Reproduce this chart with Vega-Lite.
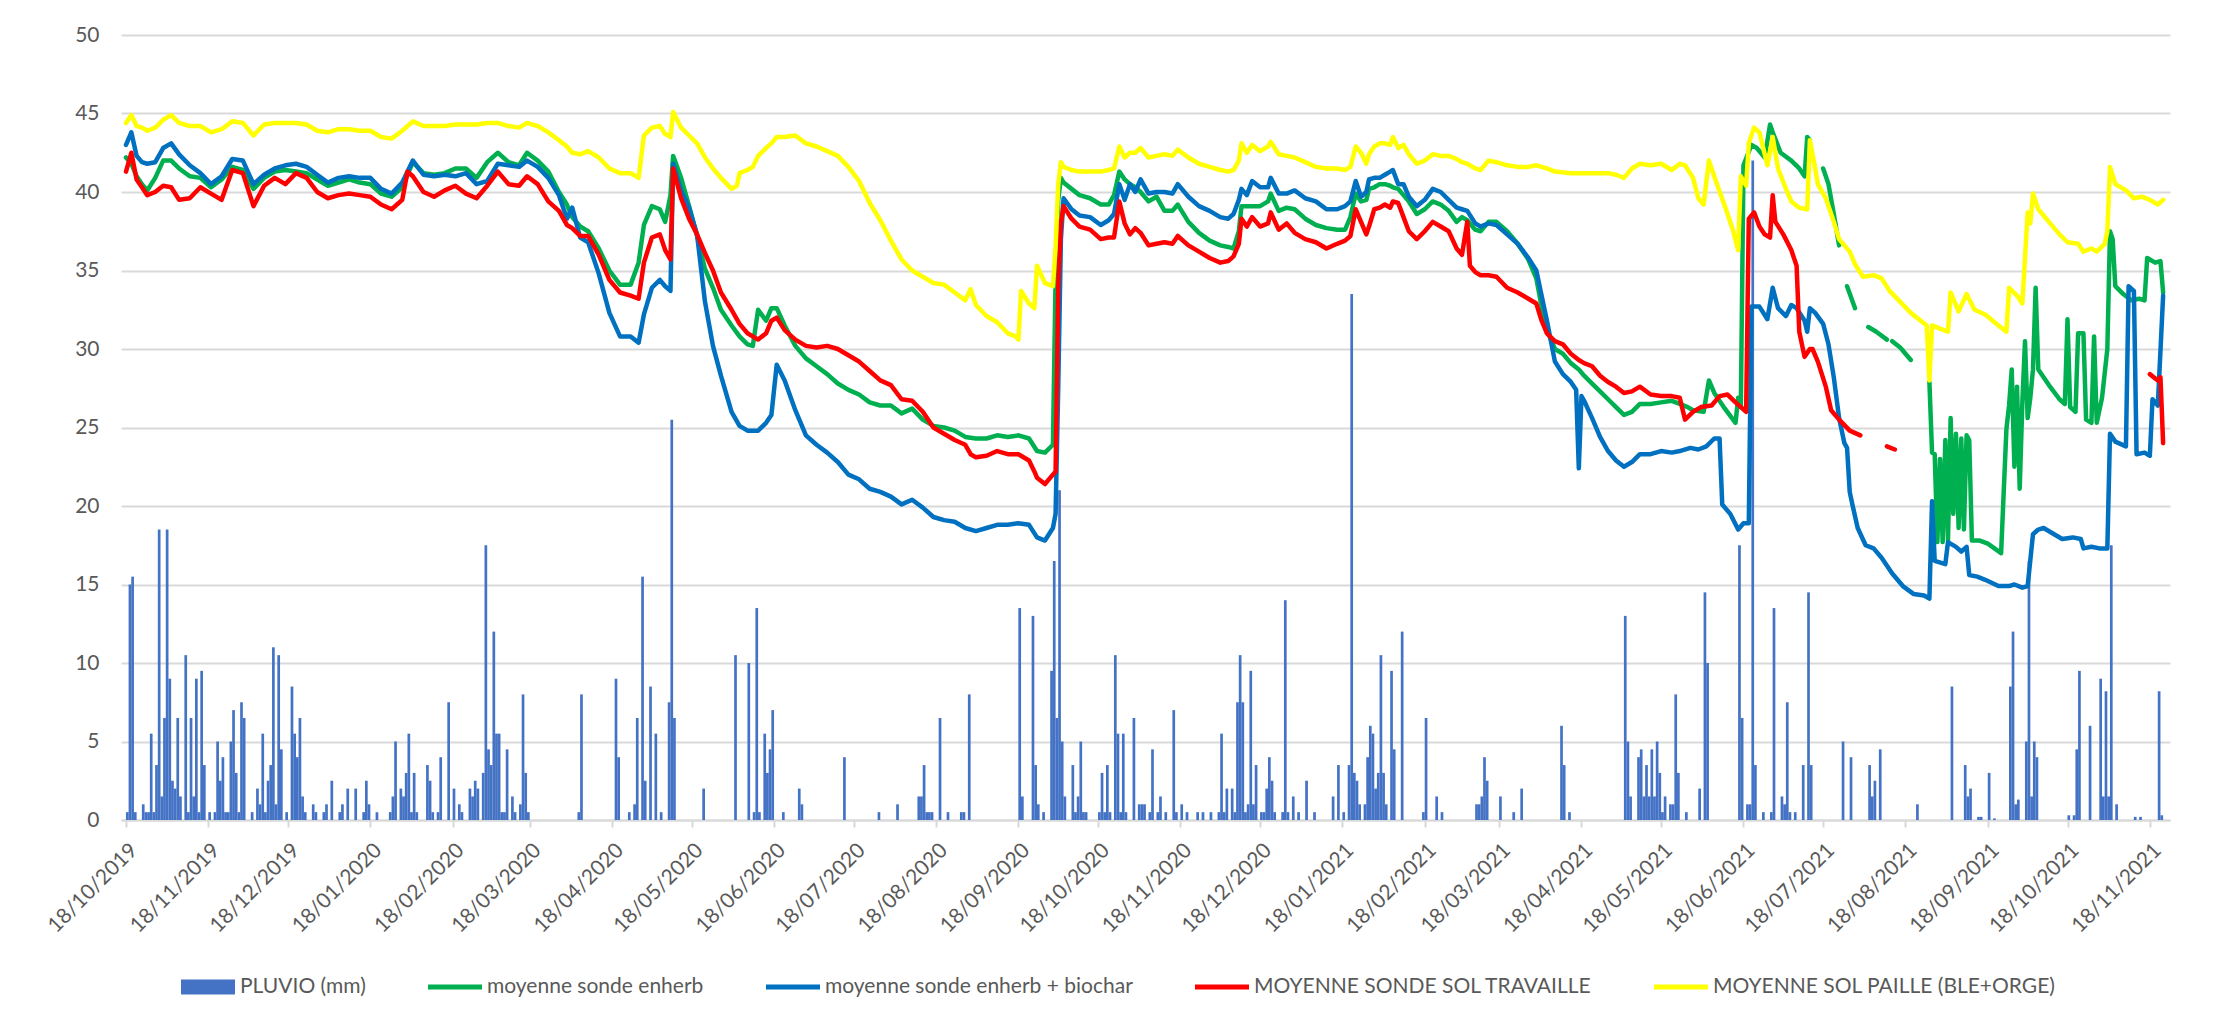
{
"$schema":"https://vega.github.io/schema/vega-lite/v6.json",
"width":2049,"height":785,
"autosize":{"type":"none"},
"padding":{"left":121,"top":35,"right":61,"bottom":192},
"background":"#ffffff",
"config":{"view":{"stroke":null},"font":"Lato","axis":{"labelFont":"Lato","labelColor":"#595959","title":null}},
"datasets":{
"rain":[
{"d":"2019-10-18","v":0.5},{"d":"2019-10-19","v":15.0},{"d":"2019-10-20","v":15.5},{"d":"2019-10-21","v":0.5},{"d":"2019-10-24","v":1.0},{"d":"2019-10-25","v":0.5},{"d":"2019-10-26","v":0.5},{"d":"2019-10-27","v":5.5},{"d":"2019-10-28","v":0.5},{"d":"2019-10-29","v":3.5},{"d":"2019-10-30","v":18.5},{"d":"2019-10-31","v":1.5},
{"d":"2019-11-01","v":6.5},{"d":"2019-11-02","v":18.5},{"d":"2019-11-03","v":9.0},{"d":"2019-11-04","v":2.5},{"d":"2019-11-05","v":2.0},{"d":"2019-11-06","v":6.5},{"d":"2019-11-07","v":1.5},{"d":"2019-11-09","v":10.5},{"d":"2019-11-10","v":0.5},{"d":"2019-11-11","v":6.5},{"d":"2019-11-12","v":1.5},{"d":"2019-11-13","v":9.0},{"d":"2019-11-14","v":0.5},{"d":"2019-11-15","v":9.5},{"d":"2019-11-16","v":3.5},{"d":"2019-11-18","v":0.5},{"d":"2019-11-20","v":0.5},{"d":"2019-11-21","v":5.0},{"d":"2019-11-22","v":2.5},{"d":"2019-11-23","v":4.0},{"d":"2019-11-24","v":0.5},{"d":"2019-11-25","v":0.5},{"d":"2019-11-26","v":5.0},{"d":"2019-11-27","v":7.0},{"d":"2019-11-28","v":3.0},{"d":"2019-11-29","v":0.5},{"d":"2019-11-30","v":7.5},
{"d":"2019-12-01","v":6.5},{"d":"2019-12-04","v":0.5},{"d":"2019-12-06","v":2.0},{"d":"2019-12-07","v":1.0},{"d":"2019-12-08","v":5.5},{"d":"2019-12-09","v":0.5},{"d":"2019-12-10","v":2.5},{"d":"2019-12-11","v":3.5},{"d":"2019-12-12","v":11.0},{"d":"2019-12-13","v":1.0},{"d":"2019-12-14","v":10.5},{"d":"2019-12-15","v":4.5},{"d":"2019-12-17","v":0.5},{"d":"2019-12-19","v":8.5},{"d":"2019-12-20","v":5.5},{"d":"2019-12-21","v":4.0},{"d":"2019-12-22","v":6.5},{"d":"2019-12-23","v":1.5},{"d":"2019-12-24","v":0.5},{"d":"2019-12-27","v":1.0},{"d":"2019-12-28","v":0.5},{"d":"2019-12-31","v":0.5},
{"d":"2020-01-01","v":1.0},{"d":"2020-01-03","v":2.5},{"d":"2020-01-06","v":0.5},{"d":"2020-01-07","v":1.0},{"d":"2020-01-09","v":2.0},{"d":"2020-01-12","v":2.0},{"d":"2020-01-15","v":0.5},{"d":"2020-01-16","v":2.5},{"d":"2020-01-17","v":1.0},{"d":"2020-01-20","v":0.5},{"d":"2020-01-25","v":0.5},{"d":"2020-01-26","v":1.5},{"d":"2020-01-27","v":5.0},{"d":"2020-01-29","v":2.0},{"d":"2020-01-30","v":1.5},{"d":"2020-01-31","v":3.0},
{"d":"2020-02-01","v":5.5},{"d":"2020-02-02","v":0.5},{"d":"2020-02-03","v":3.0},{"d":"2020-02-04","v":0.5},{"d":"2020-02-08","v":3.5},{"d":"2020-02-09","v":2.5},{"d":"2020-02-10","v":0.5},{"d":"2020-02-12","v":0.5},{"d":"2020-02-13","v":4.0},{"d":"2020-02-16","v":7.5},{"d":"2020-02-18","v":2.0},{"d":"2020-02-20","v":1.0},{"d":"2020-02-21","v":0.5},{"d":"2020-02-24","v":2.0},{"d":"2020-02-25","v":1.5},{"d":"2020-02-26","v":2.5},{"d":"2020-02-27","v":2.0},{"d":"2020-02-29","v":3.0},
{"d":"2020-03-01","v":17.5},{"d":"2020-03-02","v":4.5},{"d":"2020-03-03","v":3.5},{"d":"2020-03-04","v":12.0},{"d":"2020-03-05","v":5.5},{"d":"2020-03-06","v":5.5},{"d":"2020-03-07","v":0.5},{"d":"2020-03-08","v":0.5},{"d":"2020-03-09","v":4.5},{"d":"2020-03-11","v":1.5},{"d":"2020-03-12","v":0.5},{"d":"2020-03-14","v":1.0},{"d":"2020-03-15","v":8.0},{"d":"2020-03-16","v":3.0},{"d":"2020-03-17","v":0.5},
{"d":"2020-04-05","v":0.5},{"d":"2020-04-06","v":8.0},{"d":"2020-04-19","v":9.0},{"d":"2020-04-20","v":4.0},{"d":"2020-04-24","v":0.5},{"d":"2020-04-26","v":1.0},{"d":"2020-04-27","v":6.5},{"d":"2020-04-29","v":15.5},{"d":"2020-04-30","v":2.5},
{"d":"2020-05-02","v":8.5},{"d":"2020-05-04","v":5.5},{"d":"2020-05-06","v":0.5},{"d":"2020-05-09","v":7.5},{"d":"2020-05-10","v":25.5},{"d":"2020-05-11","v":6.5},{"d":"2020-05-22","v":2.0},
{"d":"2020-06-03","v":10.5},{"d":"2020-06-08","v":10.0},{"d":"2020-06-10","v":0.5},{"d":"2020-06-11","v":13.5},{"d":"2020-06-12","v":0.5},{"d":"2020-06-14","v":5.5},{"d":"2020-06-15","v":3.0},{"d":"2020-06-16","v":4.5},{"d":"2020-06-17","v":7.0},{"d":"2020-06-21","v":0.5},{"d":"2020-06-27","v":2.0},{"d":"2020-06-28","v":1.0},
{"d":"2020-07-14","v":4.0},{"d":"2020-07-27","v":0.5},{"d":"2020-08-03","v":1.0},{"d":"2020-08-11","v":1.5},{"d":"2020-08-12","v":1.5},{"d":"2020-08-13","v":3.5},{"d":"2020-08-14","v":0.5},{"d":"2020-08-15","v":0.5},{"d":"2020-08-16","v":0.5},{"d":"2020-08-19","v":6.5},{"d":"2020-08-22","v":0.5},{"d":"2020-08-27","v":0.5},{"d":"2020-08-28","v":0.5},{"d":"2020-08-30","v":8.0},
{"d":"2020-09-18","v":13.5},{"d":"2020-09-19","v":1.5},{"d":"2020-09-23","v":13.0},{"d":"2020-09-24","v":3.5},{"d":"2020-09-25","v":1.0},{"d":"2020-09-27","v":0.5},{"d":"2020-09-30","v":9.5},
{"d":"2020-10-01","v":16.5},{"d":"2020-10-02","v":6.5},{"d":"2020-10-03","v":21.0},{"d":"2020-10-04","v":5.0},{"d":"2020-10-05","v":1.5},{"d":"2020-10-08","v":3.5},{"d":"2020-10-09","v":0.5},{"d":"2020-10-10","v":1.5},{"d":"2020-10-11","v":5.0},{"d":"2020-10-12","v":0.5},{"d":"2020-10-13","v":0.5},{"d":"2020-10-18","v":0.5},{"d":"2020-10-19","v":3.0},{"d":"2020-10-20","v":0.5},{"d":"2020-10-21","v":3.5},{"d":"2020-10-22","v":0.5},{"d":"2020-10-24","v":10.5},{"d":"2020-10-25","v":5.5},{"d":"2020-10-26","v":0.5},{"d":"2020-10-27","v":5.5},{"d":"2020-10-28","v":0.5},{"d":"2020-10-31","v":6.5},
{"d":"2020-11-02","v":1.0},{"d":"2020-11-03","v":1.0},{"d":"2020-11-04","v":1.0},{"d":"2020-11-06","v":0.5},{"d":"2020-11-07","v":4.5},{"d":"2020-11-09","v":0.5},{"d":"2020-11-10","v":1.5},{"d":"2020-11-12","v":0.5},{"d":"2020-11-15","v":7.0},{"d":"2020-11-16","v":0.5},{"d":"2020-11-18","v":1.0},{"d":"2020-11-20","v":0.5},{"d":"2020-11-24","v":0.5},{"d":"2020-11-26","v":0.5},{"d":"2020-11-29","v":0.5},
{"d":"2020-12-02","v":0.5},{"d":"2020-12-03","v":5.5},{"d":"2020-12-04","v":0.5},{"d":"2020-12-05","v":2.0},{"d":"2020-12-07","v":2.0},{"d":"2020-12-08","v":0.5},{"d":"2020-12-09","v":7.5},{"d":"2020-12-10","v":10.5},{"d":"2020-12-11","v":7.5},{"d":"2020-12-12","v":0.5},{"d":"2020-12-13","v":1.0},{"d":"2020-12-14","v":9.5},{"d":"2020-12-15","v":1.0},{"d":"2020-12-16","v":3.5},{"d":"2020-12-18","v":0.5},{"d":"2020-12-19","v":0.5},{"d":"2020-12-20","v":2.0},{"d":"2020-12-21","v":4.0},{"d":"2020-12-22","v":2.5},{"d":"2020-12-23","v":0.5},{"d":"2020-12-26","v":0.5},{"d":"2020-12-27","v":14.0},{"d":"2020-12-28","v":0.5},{"d":"2020-12-30","v":1.5},
{"d":"2021-01-01","v":0.5},{"d":"2021-01-04","v":2.5},{"d":"2021-01-07","v":0.5},{"d":"2021-01-14","v":1.5},{"d":"2021-01-16","v":3.5},{"d":"2021-01-18","v":0.5},{"d":"2021-01-20","v":3.5},{"d":"2021-01-21","v":33.5},{"d":"2021-01-22","v":3.0},{"d":"2021-01-23","v":2.5},{"d":"2021-01-24","v":1.0},{"d":"2021-01-26","v":1.0},{"d":"2021-01-27","v":4.0},{"d":"2021-01-28","v":6.0},{"d":"2021-01-29","v":5.5},{"d":"2021-01-30","v":2.0},{"d":"2021-01-31","v":3.0},
{"d":"2021-02-01","v":10.5},{"d":"2021-02-02","v":3.0},{"d":"2021-02-03","v":1.0},{"d":"2021-02-05","v":9.5},{"d":"2021-02-06","v":4.5},{"d":"2021-02-09","v":12.0},{"d":"2021-02-17","v":0.5},{"d":"2021-02-18","v":6.5},{"d":"2021-02-22","v":1.5},{"d":"2021-02-24","v":0.5},
{"d":"2021-03-09","v":1.0},{"d":"2021-03-10","v":1.0},{"d":"2021-03-11","v":1.5},{"d":"2021-03-12","v":4.0},{"d":"2021-03-13","v":2.5},{"d":"2021-03-18","v":1.5},{"d":"2021-03-23","v":0.5},{"d":"2021-03-26","v":2.0},
{"d":"2021-04-10","v":6.0},{"d":"2021-04-11","v":3.5},{"d":"2021-04-13","v":0.5},
{"d":"2021-05-04","v":13.0},{"d":"2021-05-05","v":5.0},{"d":"2021-05-06","v":1.5},{"d":"2021-05-09","v":4.0},{"d":"2021-05-10","v":4.5},{"d":"2021-05-11","v":1.5},{"d":"2021-05-12","v":3.5},{"d":"2021-05-13","v":1.5},{"d":"2021-05-14","v":4.5},{"d":"2021-05-15","v":1.5},{"d":"2021-05-16","v":5.0},{"d":"2021-05-17","v":3.0},{"d":"2021-05-18","v":0.5},{"d":"2021-05-19","v":1.5},{"d":"2021-05-21","v":1.0},{"d":"2021-05-22","v":1.0},{"d":"2021-05-23","v":8.0},{"d":"2021-05-24","v":3.0},{"d":"2021-05-27","v":0.5},
{"d":"2021-06-01","v":2.0},{"d":"2021-06-03","v":14.5},{"d":"2021-06-04","v":10.0},{"d":"2021-06-16","v":17.5},{"d":"2021-06-17","v":6.5},{"d":"2021-06-19","v":1.0},{"d":"2021-06-20","v":1.0},{"d":"2021-06-21","v":42.0},{"d":"2021-06-22","v":3.5},{"d":"2021-06-25","v":0.5},{"d":"2021-06-28","v":0.5},{"d":"2021-06-29","v":13.5},
{"d":"2021-07-02","v":1.5},{"d":"2021-07-03","v":1.0},{"d":"2021-07-04","v":7.5},{"d":"2021-07-05","v":0.5},{"d":"2021-07-07","v":0.5},{"d":"2021-07-10","v":3.5},{"d":"2021-07-12","v":14.5},{"d":"2021-07-13","v":3.5},{"d":"2021-07-25","v":5.0},{"d":"2021-07-28","v":4.0},
{"d":"2021-08-04","v":3.5},{"d":"2021-08-05","v":1.5},{"d":"2021-08-06","v":2.5},{"d":"2021-08-08","v":4.5},{"d":"2021-08-22","v":1.0},
{"d":"2021-09-04","v":8.5},{"d":"2021-09-09","v":3.5},{"d":"2021-09-10","v":1.5},{"d":"2021-09-11","v":2.0},{"d":"2021-09-14","v":0.2},{"d":"2021-09-15","v":0.2},{"d":"2021-09-18","v":3.0},{"d":"2021-09-20","v":0.1},{"d":"2021-09-26","v":8.5},{"d":"2021-09-27","v":12.0},{"d":"2021-09-28","v":1.0},{"d":"2021-09-29","v":1.3},
{"d":"2021-10-02","v":5.0},{"d":"2021-10-03","v":16.5},{"d":"2021-10-04","v":1.5},{"d":"2021-10-05","v":5.0},{"d":"2021-10-06","v":4.0},{"d":"2021-10-18","v":0.3},{"d":"2021-10-20","v":0.3},{"d":"2021-10-21","v":4.5},{"d":"2021-10-22","v":9.5},{"d":"2021-10-26","v":6.0},{"d":"2021-10-30","v":9.0},{"d":"2021-10-31","v":1.5},
{"d":"2021-11-01","v":8.2},{"d":"2021-11-02","v":1.5},{"d":"2021-11-03","v":17.5},{"d":"2021-11-05","v":1.0},{"d":"2021-11-12","v":0.2},{"d":"2021-11-14","v":0.2},{"d":"2021-11-21","v":8.2},{"d":"2021-11-22","v":0.3}
],
"green":[
{"d":"2019-10-18","v":42.2},{"d":"2019-10-20","v":41.8},{"d":"2019-10-22","v":41.0},{"d":"2019-10-24","v":40.5},{"d":"2019-10-26","v":40.1},{"d":"2019-10-29","v":40.9},{"d":"2019-11-01","v":42.0},{"d":"2019-11-04","v":42.0},{"d":"2019-11-07","v":41.5},{"d":"2019-11-11","v":41.0},{"d":"2019-11-15","v":40.9},{"d":"2019-11-19","v":40.3},{"d":"2019-11-23","v":40.8},{"d":"2019-11-27","v":41.6},{"d":"2019-12-01","v":41.4},{"d":"2019-12-05","v":40.2},{"d":"2019-12-09","v":40.9},{"d":"2019-12-13","v":41.3},{"d":"2019-12-17","v":41.4},{"d":"2019-12-21","v":41.3},{"d":"2019-12-25","v":41.2},{"d":"2019-12-29","v":40.8},
{"d":"2020-01-02","v":40.4},{"d":"2020-01-06","v":40.6},{"d":"2020-01-10","v":40.8},{"d":"2020-01-14","v":40.6},{"d":"2020-01-18","v":40.5},{"d":"2020-01-22","v":39.9},{"d":"2020-01-26","v":39.7},{"d":"2020-01-30","v":40.3},{"d":"2020-02-03","v":41.9},{"d":"2020-02-07","v":41.2},{"d":"2020-02-11","v":41.1},{"d":"2020-02-15","v":41.2},{"d":"2020-02-19","v":41.5},{"d":"2020-02-23","v":41.5},{"d":"2020-02-27","v":40.9},{"d":"2020-03-02","v":41.9},{"d":"2020-03-06","v":42.5},{"d":"2020-03-10","v":41.9},{"d":"2020-03-14","v":41.7},{"d":"2020-03-17","v":42.5},{"d":"2020-03-21","v":42.0},{"d":"2020-03-25","v":41.3},{"d":"2020-03-29","v":40.0},
{"d":"2020-04-01","v":39.2},{"d":"2020-04-03","v":38.4},{"d":"2020-04-06","v":37.8},{"d":"2020-04-09","v":37.5},{"d":"2020-04-13","v":36.4},{"d":"2020-04-17","v":35.0},{"d":"2020-04-21","v":34.1},{"d":"2020-04-25","v":34.1},{"d":"2020-04-28","v":35.5},{"d":"2020-04-30","v":37.9},{"d":"2020-05-03","v":39.1},{"d":"2020-05-06","v":38.9},{"d":"2020-05-08","v":38.1},{"d":"2020-05-10","v":39.8},{"d":"2020-05-11","v":42.3},{"d":"2020-05-14","v":40.9},{"d":"2020-05-17","v":39.1},{"d":"2020-05-20","v":37.2},{"d":"2020-05-23","v":35.1},{"d":"2020-05-26","v":33.9},{"d":"2020-05-29","v":32.5},
{"d":"2020-06-02","v":31.5},{"d":"2020-06-05","v":30.8},{"d":"2020-06-08","v":30.3},{"d":"2020-06-10","v":30.2},{"d":"2020-06-12","v":32.5},{"d":"2020-06-15","v":31.8},{"d":"2020-06-17","v":32.6},{"d":"2020-06-19","v":32.6},{"d":"2020-06-22","v":31.5},{"d":"2020-06-26","v":30.2},{"d":"2020-06-30","v":29.4},{"d":"2020-07-04","v":28.9},{"d":"2020-07-08","v":28.4},{"d":"2020-07-12","v":27.8},{"d":"2020-07-16","v":27.4},{"d":"2020-07-20","v":27.1},{"d":"2020-07-24","v":26.6},{"d":"2020-07-28","v":26.4},
{"d":"2020-08-01","v":26.4},{"d":"2020-08-05","v":25.9},{"d":"2020-08-09","v":26.2},{"d":"2020-08-13","v":25.5},{"d":"2020-08-17","v":25.1},{"d":"2020-08-21","v":25.0},{"d":"2020-08-25","v":24.8},{"d":"2020-08-29","v":24.4},{"d":"2020-09-02","v":24.3},{"d":"2020-09-06","v":24.3},{"d":"2020-09-10","v":24.5},{"d":"2020-09-14","v":24.4},{"d":"2020-09-18","v":24.5},{"d":"2020-09-22","v":24.3},{"d":"2020-09-25","v":23.5},{"d":"2020-09-28","v":23.4},
{"d":"2020-10-01","v":23.9},{"d":"2020-10-02","v":34.5},{"d":"2020-10-03","v":39.5},{"d":"2020-10-04","v":40.9},{"d":"2020-10-05","v":40.6},{"d":"2020-10-08","v":40.2},{"d":"2020-10-11","v":39.8},{"d":"2020-10-15","v":39.6},{"d":"2020-10-19","v":39.2},{"d":"2020-10-22","v":39.2},{"d":"2020-10-24","v":39.8},{"d":"2020-10-26","v":41.3},{"d":"2020-10-28","v":40.8},{"d":"2020-10-30","v":40.5},
{"d":"2020-11-01","v":40.3},{"d":"2020-11-03","v":40.0},{"d":"2020-11-06","v":39.4},{"d":"2020-11-09","v":39.7},{"d":"2020-11-12","v":38.8},{"d":"2020-11-15","v":38.8},{"d":"2020-11-17","v":39.2},{"d":"2020-11-21","v":38.1},{"d":"2020-11-25","v":37.4},{"d":"2020-11-29","v":36.9},{"d":"2020-12-03","v":36.6},{"d":"2020-12-06","v":36.5},{"d":"2020-12-08","v":36.4},{"d":"2020-12-10","v":37.5},{"d":"2020-12-11","v":39.1},{"d":"2020-12-13","v":39.1},{"d":"2020-12-15","v":39.1},{"d":"2020-12-18","v":39.1},{"d":"2020-12-21","v":39.4},{"d":"2020-12-22","v":39.9},{"d":"2020-12-25","v":38.8},{"d":"2020-12-28","v":39.0},{"d":"2020-12-31","v":38.9},
{"d":"2021-01-04","v":38.3},{"d":"2021-01-08","v":37.9},{"d":"2021-01-12","v":37.7},{"d":"2021-01-16","v":37.6},{"d":"2021-01-19","v":37.6},{"d":"2021-01-21","v":38.4},{"d":"2021-01-23","v":39.9},{"d":"2021-01-25","v":39.4},{"d":"2021-01-27","v":39.5},{"d":"2021-01-28","v":40.2},{"d":"2021-01-30","v":40.3},{"d":"2021-02-01","v":40.5},{"d":"2021-02-03","v":40.5},{"d":"2021-02-05","v":40.4},{"d":"2021-02-06","v":40.3},{"d":"2021-02-08","v":40.2},{"d":"2021-02-10","v":39.8},{"d":"2021-02-12","v":39.4},{"d":"2021-02-15","v":38.6},{"d":"2021-02-18","v":38.9},{"d":"2021-02-21","v":39.4},{"d":"2021-02-24","v":39.2},{"d":"2021-02-27","v":38.8},
{"d":"2021-03-02","v":38.1},{"d":"2021-03-04","v":38.4},{"d":"2021-03-06","v":38.2},{"d":"2021-03-09","v":37.6},{"d":"2021-03-11","v":37.5},{"d":"2021-03-14","v":38.1},{"d":"2021-03-17","v":38.1},{"d":"2021-03-21","v":37.5},{"d":"2021-03-25","v":36.7},{"d":"2021-03-29","v":35.7},{"d":"2021-04-01","v":34.5},{"d":"2021-04-03","v":32.7},{"d":"2021-04-05","v":31.2},{"d":"2021-04-08","v":30.0},{"d":"2021-04-11","v":29.7},{"d":"2021-04-14","v":29.1},{"d":"2021-04-17","v":28.7},{"d":"2021-04-19","v":28.3},{"d":"2021-04-22","v":27.8},{"d":"2021-04-25","v":27.3},{"d":"2021-04-28","v":26.8},
{"d":"2021-05-01","v":26.3},{"d":"2021-05-04","v":25.8},{"d":"2021-05-07","v":26.0},{"d":"2021-05-10","v":26.5},{"d":"2021-05-14","v":26.5},{"d":"2021-05-18","v":26.6},{"d":"2021-05-22","v":26.7},{"d":"2021-05-25","v":26.5},{"d":"2021-05-28","v":26.3},{"d":"2021-05-30","v":26.1},{"d":"2021-06-03","v":26.0},{"d":"2021-06-05","v":28.0},{"d":"2021-06-07","v":27.2},{"d":"2021-06-11","v":26.2},{"d":"2021-06-15","v":25.3},{"d":"2021-06-16","v":26.9},{"d":"2021-06-17","v":26.3},{"d":"2021-06-18","v":41.7},{"d":"2021-06-21","v":43.0},{"d":"2021-06-23","v":42.8},{"d":"2021-06-26","v":42.2},{"d":"2021-06-28","v":44.3},{"d":"2021-06-29","v":43.8},
{"d":"2021-07-02","v":42.5},{"d":"2021-07-06","v":42.0},{"d":"2021-07-09","v":41.5},{"d":"2021-07-11","v":41.0},{"d":"2021-07-12","v":43.5},{"d":"2021-07-13","v":43.3},{"d":"2021-07-15","v":null},{"d":"2021-07-18","v":41.5},{"d":"2021-07-20","v":40.5},{"d":"2021-07-22","v":38.6},{"d":"2021-07-24","v":36.6},{"d":"2021-07-25","v":null},{"d":"2021-07-27","v":34.0},{"d":"2021-07-30","v":32.6},{"d":"2021-08-01","v":null},{"d":"2021-08-04","v":31.4},{"d":"2021-08-07","v":31.1},{"d":"2021-08-11","v":30.6},{"d":"2021-08-12","v":null},{"d":"2021-08-13","v":30.5},{"d":"2021-08-16","v":30.1},{"d":"2021-08-20","v":29.3},{"d":"2021-08-23","v":null},
{"d":"2021-08-27","v":27.9},{"d":"2021-08-28","v":23.4},{"d":"2021-08-29","v":23.3},{"d":"2021-08-30","v":17.7},{"d":"2021-08-31","v":23.0},{"d":"2021-09-01","v":17.7},{"d":"2021-09-02","v":24.2},{"d":"2021-09-03","v":17.8},{"d":"2021-09-04","v":25.6},{"d":"2021-09-05","v":19.5},{"d":"2021-09-06","v":24.6},{"d":"2021-09-07","v":18.6},{"d":"2021-09-08","v":24.3},{"d":"2021-09-09","v":18.5},{"d":"2021-09-10","v":24.5},{"d":"2021-09-11","v":24.2},{"d":"2021-09-12","v":17.8},{"d":"2021-09-15","v":17.8},{"d":"2021-09-18","v":17.6},{"d":"2021-09-23","v":17.0},{"d":"2021-09-25","v":24.9},{"d":"2021-09-26","v":26.4},{"d":"2021-09-27","v":28.7},{"d":"2021-09-28","v":22.5},{"d":"2021-09-29","v":27.6},{"d":"2021-09-30","v":21.1},
{"d":"2021-10-01","v":26.6},{"d":"2021-10-02","v":30.5},{"d":"2021-10-03","v":25.6},{"d":"2021-10-04","v":26.9},{"d":"2021-10-05","v":28.7},{"d":"2021-10-06","v":33.9},{"d":"2021-10-07","v":28.7},{"d":"2021-10-11","v":27.7},{"d":"2021-10-15","v":26.8},{"d":"2021-10-17","v":26.5},{"d":"2021-10-18","v":31.9},{"d":"2021-10-19","v":26.3},{"d":"2021-10-21","v":26.0},{"d":"2021-10-22","v":31.0},{"d":"2021-10-24","v":31.0},{"d":"2021-10-25","v":25.5},{"d":"2021-10-27","v":25.3},{"d":"2021-10-28","v":30.8},{"d":"2021-10-29","v":25.3},{"d":"2021-10-31","v":26.9},
{"d":"2021-11-02","v":30.0},{"d":"2021-11-03","v":37.5},{"d":"2021-11-04","v":37.0},{"d":"2021-11-05","v":34.0},{"d":"2021-11-08","v":33.5},{"d":"2021-11-11","v":33.1},{"d":"2021-11-14","v":33.2},{"d":"2021-11-16","v":33.1},{"d":"2021-11-17","v":35.8},{"d":"2021-11-20","v":35.5},{"d":"2021-11-22","v":35.6},{"d":"2021-11-23","v":33.6}
],
"blue":[
{"d":"2019-10-18","v":43.0},{"d":"2019-10-20","v":43.8},{"d":"2019-10-22","v":42.3},{"d":"2019-10-24","v":41.9},{"d":"2019-10-26","v":41.8},{"d":"2019-10-29","v":41.9},{"d":"2019-11-01","v":42.8},{"d":"2019-11-04","v":43.1},{"d":"2019-11-07","v":42.4},{"d":"2019-11-11","v":41.7},{"d":"2019-11-15","v":41.2},{"d":"2019-11-19","v":40.5},{"d":"2019-11-23","v":41.0},{"d":"2019-11-27","v":42.1},{"d":"2019-12-01","v":42.0},{"d":"2019-12-05","v":40.5},{"d":"2019-12-09","v":41.1},{"d":"2019-12-13","v":41.5},{"d":"2019-12-17","v":41.7},{"d":"2019-12-21","v":41.8},{"d":"2019-12-25","v":41.6},{"d":"2019-12-29","v":41.1},
{"d":"2020-01-02","v":40.6},{"d":"2020-01-06","v":40.9},{"d":"2020-01-10","v":41.0},{"d":"2020-01-14","v":40.9},{"d":"2020-01-18","v":40.9},{"d":"2020-01-22","v":40.2},{"d":"2020-01-26","v":39.9},{"d":"2020-01-30","v":40.6},{"d":"2020-02-03","v":42.0},{"d":"2020-02-07","v":41.1},{"d":"2020-02-11","v":41.0},{"d":"2020-02-15","v":41.1},{"d":"2020-02-19","v":41.0},{"d":"2020-02-23","v":41.2},{"d":"2020-02-27","v":40.5},{"d":"2020-03-02","v":40.7},{"d":"2020-03-06","v":41.8},{"d":"2020-03-10","v":41.7},{"d":"2020-03-14","v":41.6},{"d":"2020-03-17","v":42.0},{"d":"2020-03-21","v":41.6},{"d":"2020-03-25","v":40.9},{"d":"2020-03-29","v":39.8},
{"d":"2020-04-01","v":38.3},{"d":"2020-04-03","v":39.0},{"d":"2020-04-06","v":37.1},{"d":"2020-04-09","v":36.8},{"d":"2020-04-13","v":34.8},{"d":"2020-04-17","v":32.3},{"d":"2020-04-21","v":30.8},{"d":"2020-04-25","v":30.8},{"d":"2020-04-28","v":30.4},{"d":"2020-04-30","v":32.2},{"d":"2020-05-03","v":33.9},{"d":"2020-05-06","v":34.4},{"d":"2020-05-08","v":34.0},{"d":"2020-05-10","v":33.7},{"d":"2020-05-11","v":41.8},{"d":"2020-05-14","v":40.1},{"d":"2020-05-17","v":39.0},{"d":"2020-05-20","v":37.3},{"d":"2020-05-23","v":33.0},{"d":"2020-05-26","v":30.2},{"d":"2020-05-29","v":28.3},
{"d":"2020-06-02","v":26.0},{"d":"2020-06-05","v":25.1},{"d":"2020-06-08","v":24.8},{"d":"2020-06-12","v":24.8},{"d":"2020-06-15","v":25.3},{"d":"2020-06-17","v":25.8},{"d":"2020-06-19","v":29.0},{"d":"2020-06-22","v":28.0},{"d":"2020-06-26","v":26.1},{"d":"2020-06-30","v":24.5},{"d":"2020-07-04","v":23.9},{"d":"2020-07-08","v":23.4},{"d":"2020-07-12","v":22.8},{"d":"2020-07-16","v":22.0},{"d":"2020-07-20","v":21.7},{"d":"2020-07-24","v":21.1},{"d":"2020-07-28","v":20.9},
{"d":"2020-08-01","v":20.6},{"d":"2020-08-05","v":20.1},{"d":"2020-08-09","v":20.4},{"d":"2020-08-13","v":19.9},{"d":"2020-08-17","v":19.3},{"d":"2020-08-21","v":19.1},{"d":"2020-08-25","v":19.0},{"d":"2020-08-29","v":18.6},{"d":"2020-09-02","v":18.4},{"d":"2020-09-06","v":18.6},{"d":"2020-09-10","v":18.8},{"d":"2020-09-14","v":18.8},{"d":"2020-09-18","v":18.9},{"d":"2020-09-22","v":18.8},{"d":"2020-09-25","v":18.0},{"d":"2020-09-28","v":17.8},
{"d":"2020-10-01","v":18.6},{"d":"2020-10-02","v":19.5},{"d":"2020-10-03","v":27.6},{"d":"2020-10-04","v":37.0},{"d":"2020-10-05","v":39.6},{"d":"2020-10-08","v":38.9},{"d":"2020-10-11","v":38.5},{"d":"2020-10-15","v":38.4},{"d":"2020-10-19","v":37.9},{"d":"2020-10-22","v":38.2},{"d":"2020-10-24","v":38.6},{"d":"2020-10-26","v":40.5},{"d":"2020-10-28","v":39.5},{"d":"2020-10-30","v":40.5},
{"d":"2020-11-01","v":40.0},{"d":"2020-11-03","v":40.8},{"d":"2020-11-06","v":39.9},{"d":"2020-11-09","v":40.0},{"d":"2020-11-12","v":40.0},{"d":"2020-11-15","v":39.9},{"d":"2020-11-17","v":40.5},{"d":"2020-11-21","v":39.7},{"d":"2020-11-25","v":39.1},{"d":"2020-11-29","v":38.8},{"d":"2020-12-03","v":38.4},{"d":"2020-12-06","v":38.3},{"d":"2020-12-08","v":38.6},{"d":"2020-12-10","v":39.5},{"d":"2020-12-11","v":40.2},{"d":"2020-12-13","v":39.8},{"d":"2020-12-15","v":40.7},{"d":"2020-12-18","v":40.3},{"d":"2020-12-21","v":40.3},{"d":"2020-12-22","v":40.9},{"d":"2020-12-25","v":39.9},{"d":"2020-12-28","v":39.9},{"d":"2020-12-31","v":40.1},
{"d":"2021-01-04","v":39.6},{"d":"2021-01-08","v":39.4},{"d":"2021-01-12","v":38.9},{"d":"2021-01-16","v":38.9},{"d":"2021-01-19","v":39.1},{"d":"2021-01-21","v":39.4},{"d":"2021-01-23","v":40.7},{"d":"2021-01-25","v":39.7},{"d":"2021-01-27","v":40.0},{"d":"2021-01-28","v":40.8},{"d":"2021-01-30","v":40.9},{"d":"2021-02-01","v":40.9},{"d":"2021-02-03","v":41.1},{"d":"2021-02-05","v":41.3},{"d":"2021-02-06","v":41.4},{"d":"2021-02-08","v":40.5},{"d":"2021-02-10","v":40.5},{"d":"2021-02-12","v":39.7},{"d":"2021-02-15","v":39.1},{"d":"2021-02-18","v":39.5},{"d":"2021-02-21","v":40.2},{"d":"2021-02-24","v":40.0},{"d":"2021-02-27","v":39.5},
{"d":"2021-03-02","v":39.0},{"d":"2021-03-04","v":38.9},{"d":"2021-03-06","v":38.8},{"d":"2021-03-09","v":38.0},{"d":"2021-03-11","v":37.8},{"d":"2021-03-14","v":38.0},{"d":"2021-03-17","v":37.9},{"d":"2021-03-21","v":37.3},{"d":"2021-03-25","v":36.7},{"d":"2021-03-29","v":35.8},{"d":"2021-04-01","v":35.0},{"d":"2021-04-03","v":33.4},{"d":"2021-04-05","v":31.8},{"d":"2021-04-08","v":29.2},{"d":"2021-04-11","v":28.4},{"d":"2021-04-14","v":27.9},{"d":"2021-04-16","v":27.4},{"d":"2021-04-17","v":22.4},{"d":"2021-04-18","v":27.0},{"d":"2021-04-19","v":26.7},{"d":"2021-04-22","v":25.6},{"d":"2021-04-25","v":24.4},{"d":"2021-04-28","v":23.5},
{"d":"2021-05-01","v":22.9},{"d":"2021-05-04","v":22.5},{"d":"2021-05-07","v":22.8},{"d":"2021-05-10","v":23.3},{"d":"2021-05-14","v":23.3},{"d":"2021-05-18","v":23.5},{"d":"2021-05-22","v":23.4},{"d":"2021-05-25","v":23.5},{"d":"2021-05-29","v":23.7},{"d":"2021-06-01","v":23.6},{"d":"2021-06-04","v":23.8},{"d":"2021-06-07","v":24.3},{"d":"2021-06-09","v":24.3},{"d":"2021-06-10","v":20.1},{"d":"2021-06-13","v":19.5},{"d":"2021-06-16","v":18.5},{"d":"2021-06-18","v":18.9},{"d":"2021-06-20","v":18.9},{"d":"2021-06-21","v":32.7},{"d":"2021-06-24","v":32.7},{"d":"2021-06-27","v":31.9},{"d":"2021-06-29","v":33.9},
{"d":"2021-07-01","v":32.6},{"d":"2021-07-04","v":32.1},{"d":"2021-07-06","v":32.8},{"d":"2021-07-08","v":32.6},{"d":"2021-07-11","v":31.8},{"d":"2021-07-12","v":31.1},{"d":"2021-07-13","v":32.6},{"d":"2021-07-15","v":32.3},{"d":"2021-07-18","v":31.6},{"d":"2021-07-20","v":30.3},{"d":"2021-07-22","v":28.2},{"d":"2021-07-24","v":25.6},{"d":"2021-07-26","v":24.0},{"d":"2021-07-27","v":23.7},{"d":"2021-07-28","v":20.9},{"d":"2021-07-29","v":20.1},{"d":"2021-07-31","v":18.6},
{"d":"2021-08-03","v":17.5},{"d":"2021-08-06","v":17.3},{"d":"2021-08-09","v":16.7},{"d":"2021-08-13","v":15.7},{"d":"2021-08-17","v":14.9},{"d":"2021-08-21","v":14.4},{"d":"2021-08-25","v":14.3},{"d":"2021-08-27","v":14.1},{"d":"2021-08-28","v":20.3},{"d":"2021-08-29","v":16.5},{"d":"2021-09-02","v":16.3},{"d":"2021-09-03","v":17.7},{"d":"2021-09-06","v":17.4},{"d":"2021-09-08","v":17.1},{"d":"2021-09-10","v":17.4},{"d":"2021-09-11","v":15.6},{"d":"2021-09-14","v":15.5},{"d":"2021-09-17","v":15.3},{"d":"2021-09-22","v":14.9},{"d":"2021-09-26","v":14.9},{"d":"2021-09-28","v":15.0},
{"d":"2021-10-01","v":14.8},{"d":"2021-10-03","v":14.9},{"d":"2021-10-05","v":18.2},{"d":"2021-10-07","v":18.5},{"d":"2021-10-09","v":18.6},{"d":"2021-10-12","v":18.3},{"d":"2021-10-16","v":17.9},{"d":"2021-10-20","v":18.0},{"d":"2021-10-23","v":17.9},{"d":"2021-10-24","v":17.3},{"d":"2021-10-27","v":17.4},{"d":"2021-10-30","v":17.3},{"d":"2021-11-02","v":17.3},{"d":"2021-11-03","v":24.6},{"d":"2021-11-05","v":24.1},{"d":"2021-11-09","v":23.8},{"d":"2021-11-10","v":34.0},{"d":"2021-11-12","v":33.7},{"d":"2021-11-13","v":23.3},{"d":"2021-11-16","v":23.4},{"d":"2021-11-18","v":23.2},{"d":"2021-11-19","v":26.8},{"d":"2021-11-21","v":26.4},{"d":"2021-11-23","v":33.4}
],
"red":[
{"d":"2019-10-18","v":41.3},{"d":"2019-10-20","v":42.5},{"d":"2019-10-22","v":40.8},{"d":"2019-10-24","v":40.3},{"d":"2019-10-26","v":39.8},{"d":"2019-10-29","v":40.0},{"d":"2019-11-01","v":40.4},{"d":"2019-11-04","v":40.3},{"d":"2019-11-07","v":39.5},{"d":"2019-11-11","v":39.6},{"d":"2019-11-15","v":40.3},{"d":"2019-11-19","v":39.9},{"d":"2019-11-23","v":39.5},{"d":"2019-11-27","v":41.4},{"d":"2019-12-01","v":41.2},{"d":"2019-12-05","v":39.1},{"d":"2019-12-09","v":40.4},{"d":"2019-12-13","v":40.9},{"d":"2019-12-17","v":40.5},{"d":"2019-12-21","v":41.2},{"d":"2019-12-25","v":40.9},{"d":"2019-12-29","v":40.0},
{"d":"2020-01-02","v":39.6},{"d":"2020-01-06","v":39.8},{"d":"2020-01-10","v":39.9},{"d":"2020-01-14","v":39.8},{"d":"2020-01-18","v":39.7},{"d":"2020-01-22","v":39.2},{"d":"2020-01-26","v":38.9},{"d":"2020-01-30","v":39.5},{"d":"2020-02-01","v":41.3},{"d":"2020-02-03","v":41.0},{"d":"2020-02-07","v":40.0},{"d":"2020-02-11","v":39.7},{"d":"2020-02-15","v":40.1},{"d":"2020-02-19","v":40.4},{"d":"2020-02-23","v":39.9},{"d":"2020-02-27","v":39.6},{"d":"2020-03-02","v":40.4},{"d":"2020-03-06","v":41.3},{"d":"2020-03-10","v":40.5},{"d":"2020-03-14","v":40.4},{"d":"2020-03-17","v":41.0},{"d":"2020-03-21","v":40.5},{"d":"2020-03-25","v":39.4},{"d":"2020-03-29","v":38.8},
{"d":"2020-04-01","v":37.9},{"d":"2020-04-03","v":37.7},{"d":"2020-04-06","v":37.2},{"d":"2020-04-09","v":37.2},{"d":"2020-04-13","v":36.0},{"d":"2020-04-17","v":34.4},{"d":"2020-04-21","v":33.6},{"d":"2020-04-25","v":33.4},{"d":"2020-04-28","v":33.2},{"d":"2020-04-30","v":35.5},{"d":"2020-05-03","v":37.1},{"d":"2020-05-06","v":37.3},{"d":"2020-05-08","v":36.3},{"d":"2020-05-10","v":35.7},{"d":"2020-05-11","v":41.5},{"d":"2020-05-14","v":39.6},{"d":"2020-05-17","v":38.3},{"d":"2020-05-20","v":37.3},{"d":"2020-05-23","v":36.1},{"d":"2020-05-26","v":35.0},{"d":"2020-05-29","v":33.6},
{"d":"2020-06-02","v":32.5},{"d":"2020-06-05","v":31.6},{"d":"2020-06-08","v":31.0},{"d":"2020-06-12","v":30.6},{"d":"2020-06-15","v":31.0},{"d":"2020-06-17","v":31.8},{"d":"2020-06-19","v":32.0},{"d":"2020-06-22","v":31.2},{"d":"2020-06-26","v":30.6},{"d":"2020-06-30","v":30.2},{"d":"2020-07-04","v":30.1},{"d":"2020-07-08","v":30.2},{"d":"2020-07-12","v":30.0},{"d":"2020-07-16","v":29.6},{"d":"2020-07-20","v":29.2},{"d":"2020-07-24","v":28.6},{"d":"2020-07-28","v":28.0},
{"d":"2020-08-01","v":27.7},{"d":"2020-08-05","v":26.8},{"d":"2020-08-09","v":26.7},{"d":"2020-08-13","v":26.0},{"d":"2020-08-17","v":25.0},{"d":"2020-08-21","v":24.6},{"d":"2020-08-25","v":24.2},{"d":"2020-08-29","v":23.9},{"d":"2020-08-31","v":23.3},{"d":"2020-09-02","v":23.1},{"d":"2020-09-06","v":23.2},{"d":"2020-09-10","v":23.5},{"d":"2020-09-14","v":23.3},{"d":"2020-09-18","v":23.3},{"d":"2020-09-22","v":22.9},{"d":"2020-09-24","v":22.2},{"d":"2020-09-25","v":21.8},{"d":"2020-09-28","v":21.4},
{"d":"2020-10-01","v":22.0},{"d":"2020-10-02","v":22.2},{"d":"2020-10-03","v":34.0},{"d":"2020-10-04","v":38.0},{"d":"2020-10-05","v":39.1},{"d":"2020-10-08","v":38.3},{"d":"2020-10-11","v":37.8},{"d":"2020-10-15","v":37.6},{"d":"2020-10-19","v":37.0},{"d":"2020-10-22","v":37.1},{"d":"2020-10-24","v":37.1},{"d":"2020-10-26","v":39.4},{"d":"2020-10-28","v":38.0},{"d":"2020-10-30","v":37.3},
{"d":"2020-11-01","v":37.7},{"d":"2020-11-03","v":37.4},{"d":"2020-11-06","v":36.6},{"d":"2020-11-09","v":36.7},{"d":"2020-11-12","v":36.8},{"d":"2020-11-15","v":36.7},{"d":"2020-11-17","v":37.2},{"d":"2020-11-21","v":36.6},{"d":"2020-11-25","v":36.2},{"d":"2020-11-29","v":35.8},{"d":"2020-12-03","v":35.5},{"d":"2020-12-06","v":35.6},{"d":"2020-12-08","v":35.9},{"d":"2020-12-10","v":36.7},{"d":"2020-12-11","v":38.3},{"d":"2020-12-13","v":37.8},{"d":"2020-12-15","v":38.4},{"d":"2020-12-18","v":37.8},{"d":"2020-12-21","v":38.0},{"d":"2020-12-22","v":38.7},{"d":"2020-12-25","v":37.6},{"d":"2020-12-28","v":38.0},{"d":"2020-12-31","v":37.4},
{"d":"2021-01-04","v":37.0},{"d":"2021-01-08","v":36.8},{"d":"2021-01-12","v":36.4},{"d":"2021-01-16","v":36.7},{"d":"2021-01-19","v":36.9},{"d":"2021-01-21","v":37.2},{"d":"2021-01-23","v":38.9},{"d":"2021-01-25","v":38.1},{"d":"2021-01-27","v":37.3},{"d":"2021-01-28","v":37.8},{"d":"2021-01-30","v":38.9},{"d":"2021-02-01","v":39.0},{"d":"2021-02-03","v":39.2},{"d":"2021-02-05","v":39.0},{"d":"2021-02-06","v":39.4},{"d":"2021-02-08","v":39.3},{"d":"2021-02-10","v":38.4},{"d":"2021-02-12","v":37.5},{"d":"2021-02-15","v":37.0},{"d":"2021-02-18","v":37.5},{"d":"2021-02-21","v":38.1},{"d":"2021-02-24","v":37.8},{"d":"2021-02-27","v":37.5},
{"d":"2021-03-02","v":36.4},{"d":"2021-03-04","v":36.0},{"d":"2021-03-06","v":38.1},{"d":"2021-03-07","v":35.3},{"d":"2021-03-09","v":34.9},{"d":"2021-03-11","v":34.7},{"d":"2021-03-14","v":34.7},{"d":"2021-03-17","v":34.6},{"d":"2021-03-21","v":33.9},{"d":"2021-03-25","v":33.6},{"d":"2021-03-29","v":33.2},{"d":"2021-04-01","v":32.9},{"d":"2021-04-03","v":31.8},{"d":"2021-04-05","v":31.0},{"d":"2021-04-08","v":30.5},{"d":"2021-04-11","v":30.3},{"d":"2021-04-14","v":29.7},{"d":"2021-04-17","v":29.3},{"d":"2021-04-19","v":29.1},{"d":"2021-04-22","v":28.9},{"d":"2021-04-25","v":28.3},{"d":"2021-04-28","v":27.9},
{"d":"2021-05-01","v":27.6},{"d":"2021-05-04","v":27.2},{"d":"2021-05-07","v":27.3},{"d":"2021-05-10","v":27.6},{"d":"2021-05-14","v":27.1},{"d":"2021-05-18","v":27.0},{"d":"2021-05-22","v":27.0},{"d":"2021-05-25","v":26.9},{"d":"2021-05-27","v":25.5},{"d":"2021-05-30","v":26.0},{"d":"2021-06-02","v":26.3},{"d":"2021-06-06","v":26.4},{"d":"2021-06-09","v":27.0},{"d":"2021-06-12","v":27.1},{"d":"2021-06-15","v":26.6},{"d":"2021-06-19","v":26.0},{"d":"2021-06-20","v":38.3},{"d":"2021-06-22","v":38.7},{"d":"2021-06-24","v":37.8},{"d":"2021-06-26","v":37.3},{"d":"2021-06-28","v":37.1},{"d":"2021-06-29","v":39.8},{"d":"2021-06-30","v":38.1},
{"d":"2021-07-03","v":37.3},{"d":"2021-07-06","v":36.3},{"d":"2021-07-08","v":35.3},{"d":"2021-07-09","v":31.1},{"d":"2021-07-11","v":29.5},{"d":"2021-07-13","v":30.0},{"d":"2021-07-14","v":30.0},{"d":"2021-07-16","v":29.2},{"d":"2021-07-19","v":27.6},{"d":"2021-07-21","v":26.1},{"d":"2021-07-24","v":25.5},{"d":"2021-07-28","v":24.8},{"d":"2021-08-01","v":24.5},{"d":"2021-08-03","v":null},{"d":"2021-08-11","v":23.8},{"d":"2021-08-14","v":23.6},{"d":"2021-08-16","v":null},{"d":"2021-11-18","v":28.4},{"d":"2021-11-21","v":28.0},{"d":"2021-11-22","v":28.2},{"d":"2021-11-23","v":24.0}
],
"yellow":[
{"d":"2019-10-18","v":44.4},{"d":"2019-10-20","v":44.9},{"d":"2019-10-22","v":44.2},{"d":"2019-10-24","v":44.1},{"d":"2019-10-26","v":43.9},{"d":"2019-10-29","v":44.1},{"d":"2019-11-01","v":44.6},{"d":"2019-11-04","v":44.9},{"d":"2019-11-07","v":44.4},{"d":"2019-11-11","v":44.2},{"d":"2019-11-15","v":44.2},{"d":"2019-11-19","v":43.8},{"d":"2019-11-23","v":44.0},{"d":"2019-11-27","v":44.5},{"d":"2019-12-01","v":44.4},{"d":"2019-12-05","v":43.6},{"d":"2019-12-09","v":44.3},{"d":"2019-12-13","v":44.4},{"d":"2019-12-17","v":44.4},{"d":"2019-12-21","v":44.4},{"d":"2019-12-25","v":44.3},{"d":"2019-12-29","v":43.9},
{"d":"2020-01-02","v":43.8},{"d":"2020-01-06","v":44.0},{"d":"2020-01-10","v":44.0},{"d":"2020-01-14","v":43.9},{"d":"2020-01-18","v":43.9},{"d":"2020-01-22","v":43.5},{"d":"2020-01-26","v":43.4},{"d":"2020-01-30","v":43.9},{"d":"2020-02-03","v":44.5},{"d":"2020-02-07","v":44.2},{"d":"2020-02-11","v":44.2},{"d":"2020-02-15","v":44.2},{"d":"2020-02-19","v":44.3},{"d":"2020-02-23","v":44.3},{"d":"2020-02-27","v":44.3},{"d":"2020-03-02","v":44.4},{"d":"2020-03-06","v":44.4},{"d":"2020-03-10","v":44.2},{"d":"2020-03-14","v":44.1},{"d":"2020-03-17","v":44.4},{"d":"2020-03-21","v":44.2},{"d":"2020-03-25","v":43.8},{"d":"2020-03-29","v":43.3},
{"d":"2020-04-01","v":42.9},{"d":"2020-04-03","v":42.5},{"d":"2020-04-06","v":42.4},{"d":"2020-04-09","v":42.6},{"d":"2020-04-13","v":42.2},{"d":"2020-04-17","v":41.5},{"d":"2020-04-21","v":41.2},{"d":"2020-04-25","v":41.2},{"d":"2020-04-28","v":40.9},{"d":"2020-04-30","v":43.6},{"d":"2020-05-03","v":44.1},{"d":"2020-05-06","v":44.2},{"d":"2020-05-08","v":43.7},{"d":"2020-05-10","v":43.5},{"d":"2020-05-11","v":45.1},{"d":"2020-05-14","v":44.1},{"d":"2020-05-17","v":43.6},{"d":"2020-05-20","v":43.1},{"d":"2020-05-23","v":42.2},{"d":"2020-05-26","v":41.5},{"d":"2020-05-29","v":40.9},
{"d":"2020-06-02","v":40.2},{"d":"2020-06-04","v":40.4},{"d":"2020-06-05","v":41.2},{"d":"2020-06-08","v":41.4},{"d":"2020-06-10","v":41.6},{"d":"2020-06-12","v":42.3},{"d":"2020-06-15","v":42.8},{"d":"2020-06-17","v":43.1},{"d":"2020-06-19","v":43.5},{"d":"2020-06-22","v":43.5},{"d":"2020-06-26","v":43.6},{"d":"2020-06-30","v":43.1},{"d":"2020-07-04","v":42.9},{"d":"2020-07-08","v":42.6},{"d":"2020-07-12","v":42.3},{"d":"2020-07-16","v":41.6},{"d":"2020-07-20","v":40.7},{"d":"2020-07-24","v":39.3},{"d":"2020-07-28","v":38.2},
{"d":"2020-08-01","v":36.9},{"d":"2020-08-05","v":35.7},{"d":"2020-08-09","v":35.0},{"d":"2020-08-13","v":34.6},{"d":"2020-08-17","v":34.2},{"d":"2020-08-21","v":34.1},{"d":"2020-08-25","v":33.6},{"d":"2020-08-29","v":33.1},{"d":"2020-08-31","v":33.8},{"d":"2020-09-02","v":32.8},{"d":"2020-09-06","v":32.1},{"d":"2020-09-10","v":31.7},{"d":"2020-09-14","v":31.0},{"d":"2020-09-17","v":30.8},{"d":"2020-09-18","v":30.6},{"d":"2020-09-19","v":33.7},{"d":"2020-09-22","v":32.9},{"d":"2020-09-24","v":32.6},{"d":"2020-09-25","v":35.3},{"d":"2020-09-28","v":34.2},
{"d":"2020-10-01","v":34.0},{"d":"2020-10-02","v":36.5},{"d":"2020-10-03","v":40.5},{"d":"2020-10-04","v":41.9},{"d":"2020-10-05","v":41.6},{"d":"2020-10-08","v":41.4},{"d":"2020-10-11","v":41.3},{"d":"2020-10-15","v":41.3},{"d":"2020-10-19","v":41.3},{"d":"2020-10-22","v":41.4},{"d":"2020-10-24","v":41.5},{"d":"2020-10-26","v":42.9},{"d":"2020-10-28","v":42.2},{"d":"2020-10-30","v":42.5},
{"d":"2020-11-01","v":42.5},{"d":"2020-11-03","v":42.8},{"d":"2020-11-06","v":42.2},{"d":"2020-11-09","v":42.3},{"d":"2020-11-12","v":42.4},{"d":"2020-11-15","v":42.3},{"d":"2020-11-17","v":42.7},{"d":"2020-11-21","v":42.2},{"d":"2020-11-25","v":41.8},{"d":"2020-11-29","v":41.6},{"d":"2020-12-03","v":41.4},{"d":"2020-12-06","v":41.3},{"d":"2020-12-08","v":41.4},{"d":"2020-12-10","v":42.0},{"d":"2020-12-11","v":43.1},{"d":"2020-12-13","v":42.5},{"d":"2020-12-15","v":43.0},{"d":"2020-12-18","v":42.6},{"d":"2020-12-21","v":42.9},{"d":"2020-12-22","v":43.2},{"d":"2020-12-25","v":42.4},{"d":"2020-12-28","v":42.3},{"d":"2020-12-31","v":42.2},
{"d":"2021-01-04","v":41.9},{"d":"2021-01-08","v":41.6},{"d":"2021-01-12","v":41.5},{"d":"2021-01-16","v":41.5},{"d":"2021-01-19","v":41.4},{"d":"2021-01-21","v":41.6},{"d":"2021-01-23","v":42.9},{"d":"2021-01-25","v":42.5},{"d":"2021-01-27","v":41.8},{"d":"2021-01-28","v":42.4},{"d":"2021-01-30","v":42.9},{"d":"2021-02-01","v":43.1},{"d":"2021-02-03","v":43.1},{"d":"2021-02-05","v":43.0},{"d":"2021-02-06","v":43.5},{"d":"2021-02-08","v":42.8},{"d":"2021-02-10","v":43.0},{"d":"2021-02-12","v":42.4},{"d":"2021-02-15","v":41.8},{"d":"2021-02-18","v":42.0},{"d":"2021-02-21","v":42.4},{"d":"2021-02-24","v":42.3},{"d":"2021-02-27","v":42.3},
{"d":"2021-03-02","v":42.1},{"d":"2021-03-04","v":41.9},{"d":"2021-03-06","v":41.8},{"d":"2021-03-09","v":41.5},{"d":"2021-03-11","v":41.4},{"d":"2021-03-14","v":42.0},{"d":"2021-03-17","v":41.9},{"d":"2021-03-21","v":41.7},{"d":"2021-03-25","v":41.6},{"d":"2021-03-29","v":41.6},{"d":"2021-04-01","v":41.7},{"d":"2021-04-05","v":41.5},{"d":"2021-04-08","v":41.3},{"d":"2021-04-14","v":41.2},{"d":"2021-04-22","v":41.2},{"d":"2021-04-28","v":41.2},
{"d":"2021-05-01","v":41.1},{"d":"2021-05-04","v":40.9},{"d":"2021-05-07","v":41.5},{"d":"2021-05-10","v":41.8},{"d":"2021-05-14","v":41.7},{"d":"2021-05-18","v":41.8},{"d":"2021-05-22","v":41.4},{"d":"2021-05-25","v":41.8},{"d":"2021-05-27","v":41.7},{"d":"2021-05-30","v":40.9},{"d":"2021-06-01","v":39.6},{"d":"2021-06-03","v":39.2},{"d":"2021-06-05","v":42.0},{"d":"2021-06-08","v":40.5},{"d":"2021-06-11","v":39.1},{"d":"2021-06-14","v":37.6},{"d":"2021-06-16","v":36.3},{"d":"2021-06-17","v":41.0},{"d":"2021-06-19","v":40.4},{"d":"2021-06-20","v":43.1},{"d":"2021-06-22","v":44.1},{"d":"2021-06-24","v":43.8},{"d":"2021-06-27","v":41.7},{"d":"2021-06-29","v":43.5},
{"d":"2021-07-01","v":41.5},{"d":"2021-07-04","v":40.2},{"d":"2021-07-06","v":39.4},{"d":"2021-07-09","v":39.0},{"d":"2021-07-12","v":38.9},{"d":"2021-07-13","v":43.3},{"d":"2021-07-15","v":41.5},{"d":"2021-07-16","v":40.5},{"d":"2021-07-19","v":39.6},{"d":"2021-07-22","v":38.1},{"d":"2021-07-24","v":37.0},{"d":"2021-07-28","v":36.2},{"d":"2021-07-30","v":35.4},
{"d":"2021-08-02","v":34.6},{"d":"2021-08-06","v":34.7},{"d":"2021-08-09","v":34.5},{"d":"2021-08-12","v":33.7},{"d":"2021-08-16","v":33.0},{"d":"2021-08-20","v":32.3},{"d":"2021-08-23","v":31.9},{"d":"2021-08-26","v":31.5},{"d":"2021-08-27","v":28.0},{"d":"2021-08-28","v":31.5},{"d":"2021-08-31","v":31.3},{"d":"2021-09-03","v":31.1},{"d":"2021-09-04","v":33.6},{"d":"2021-09-07","v":32.4},{"d":"2021-09-10","v":33.5},{"d":"2021-09-13","v":32.5},{"d":"2021-09-17","v":32.2},{"d":"2021-09-22","v":31.5},{"d":"2021-09-25","v":31.1},{"d":"2021-09-26","v":33.9},{"d":"2021-09-29","v":33.4},
{"d":"2021-10-01","v":32.9},{"d":"2021-10-03","v":38.7},{"d":"2021-10-04","v":38.0},{"d":"2021-10-05","v":39.9},{"d":"2021-10-07","v":38.9},{"d":"2021-10-11","v":38.1},{"d":"2021-10-15","v":37.3},{"d":"2021-10-18","v":36.8},{"d":"2021-10-22","v":36.7},{"d":"2021-10-24","v":36.2},{"d":"2021-10-27","v":36.4},{"d":"2021-10-29","v":36.2},{"d":"2021-11-01","v":36.7},{"d":"2021-11-02","v":37.5},{"d":"2021-11-03","v":41.6},{"d":"2021-11-05","v":40.5},{"d":"2021-11-09","v":40.1},{"d":"2021-11-12","v":39.6},{"d":"2021-11-15","v":39.7},{"d":"2021-11-18","v":39.5},{"d":"2021-11-21","v":39.2},{"d":"2021-11-23","v":39.5}
]
},
"layer":[
{"data":{"name":"rain"},
 "mark":{"type":"bar","width":2.7,"xOffset":1.3},
 "encoding":{
  "x":{"field":"d","type":"temporal",
   "scale":{"type":"utc","domain":[{"year":2019,"month":10,"date":18,"utc":true},{"year":2021,"month":11,"date":23,"hours":17,"utc":true}]},
   "axis":{"values":[{"year":2019,"month":10,"date":18,"utc":true},{"year":2019,"month":11,"date":18,"utc":true},{"year":2019,"month":12,"date":18,"utc":true},{"year":2020,"month":1,"date":18,"utc":true},{"year":2020,"month":2,"date":18,"utc":true},{"year":2020,"month":3,"date":18,"utc":true},{"year":2020,"month":4,"date":18,"utc":true},{"year":2020,"month":5,"date":18,"utc":true},{"year":2020,"month":6,"date":18,"utc":true},{"year":2020,"month":7,"date":18,"utc":true},{"year":2020,"month":8,"date":18,"utc":true},{"year":2020,"month":9,"date":18,"utc":true},{"year":2020,"month":10,"date":18,"utc":true},{"year":2020,"month":11,"date":18,"utc":true},{"year":2020,"month":12,"date":18,"utc":true},{"year":2021,"month":1,"date":18,"utc":true},{"year":2021,"month":2,"date":18,"utc":true},{"year":2021,"month":3,"date":18,"utc":true},{"year":2021,"month":4,"date":18,"utc":true},{"year":2021,"month":5,"date":18,"utc":true},{"year":2021,"month":6,"date":18,"utc":true},{"year":2021,"month":7,"date":18,"utc":true},{"year":2021,"month":8,"date":18,"utc":true},{"year":2021,"month":9,"date":18,"utc":true},{"year":2021,"month":10,"date":18,"utc":true},{"year":2021,"month":11,"date":18,"utc":true}],
    "format":"%d/%m/%Y","labelAngle":-45,"labelFontSize":21,"labelPadding":12,"labelOverlap":false,"labelBound":false,"labelFlush":false,
    "grid":false,"domainColor":"#D9D9D9","domainWidth":2,"tickColor":"#D9D9D9","tickWidth":2,"tickSize":7,"title":null}},
  "y":{"field":"v","type":"quantitative","scale":{"domain":[0,50],"nice":false},
   "axis":{"values":[0,5,10,15,20,25,30,35,40,45,50],"grid":true,"gridColor":"#D9D9D9","gridWidth":2,"domain":false,"ticks":false,"labelFontSize":21,"labelPadding":22,"title":null}},
  "color":{"datum":"PLUVIO (mm)",
   "scale":{"domain":["PLUVIO (mm)","moyenne sonde enherb","moyenne sonde enherb + biochar","MOYENNE SONDE SOL TRAVAILLE","MOYENNE SOL PAILLE (BLE+ORGE)"],"range":["#4472C4","#00B050","#0070C0","#FF0000","#FFFF00"]},
   "legend":{"orient":"none","legendX":60,"legendY":925,"direction":"horizontal","columns":5,"title":null,
    "labelFont":"Lato","labelFontSize":21,"labelColor":"#595959","labelOffset":5,"labelLimit":0,"columnPadding":62,"symbolSize":2916,"symbolStrokeWidth":0,
    "encode":{"symbols":{"update":{
      "shape":[{"test":"datum.value === 'PLUVIO (mm)'","value":"M-1,-0.28H1V0.28H-1Z"},{"value":"M-1,-0.09H1V0.09H-1Z"}],
      "fill":{"scale":"color","field":"value"},
      "stroke":{"value":"transparent"},
      "strokeWidth":{"value":0},
      "opacity":{"value":1}}}}}}
 }},
{"data":{"name":"green"},
 "mark":{"type":"line","strokeWidth":4.5,"strokeJoin":"round","strokeCap":"round","invalid":"break-paths-show-domains"},
 "encoding":{"x":{"field":"d","type":"temporal"},"y":{"field":"v","type":"quantitative"},"color":{"datum":"moyenne sonde enherb"}}},
{"data":{"name":"blue"},
 "mark":{"type":"line","strokeWidth":4.5,"strokeJoin":"round","strokeCap":"round","invalid":"break-paths-show-domains"},
 "encoding":{"x":{"field":"d","type":"temporal"},"y":{"field":"v","type":"quantitative"},"color":{"datum":"moyenne sonde enherb + biochar"}}},
{"data":{"name":"red"},
 "mark":{"type":"line","strokeWidth":4.5,"strokeJoin":"round","strokeCap":"round","invalid":"break-paths-show-domains"},
 "encoding":{"x":{"field":"d","type":"temporal"},"y":{"field":"v","type":"quantitative"},"color":{"datum":"MOYENNE SONDE SOL TRAVAILLE"}}},
{"data":{"name":"yellow"},
 "mark":{"type":"line","strokeWidth":4.5,"strokeJoin":"round","strokeCap":"round","invalid":"break-paths-show-domains"},
 "encoding":{"x":{"field":"d","type":"temporal"},"y":{"field":"v","type":"quantitative"},"color":{"datum":"MOYENNE SOL PAILLE (BLE+ORGE)"}}}
]
}
